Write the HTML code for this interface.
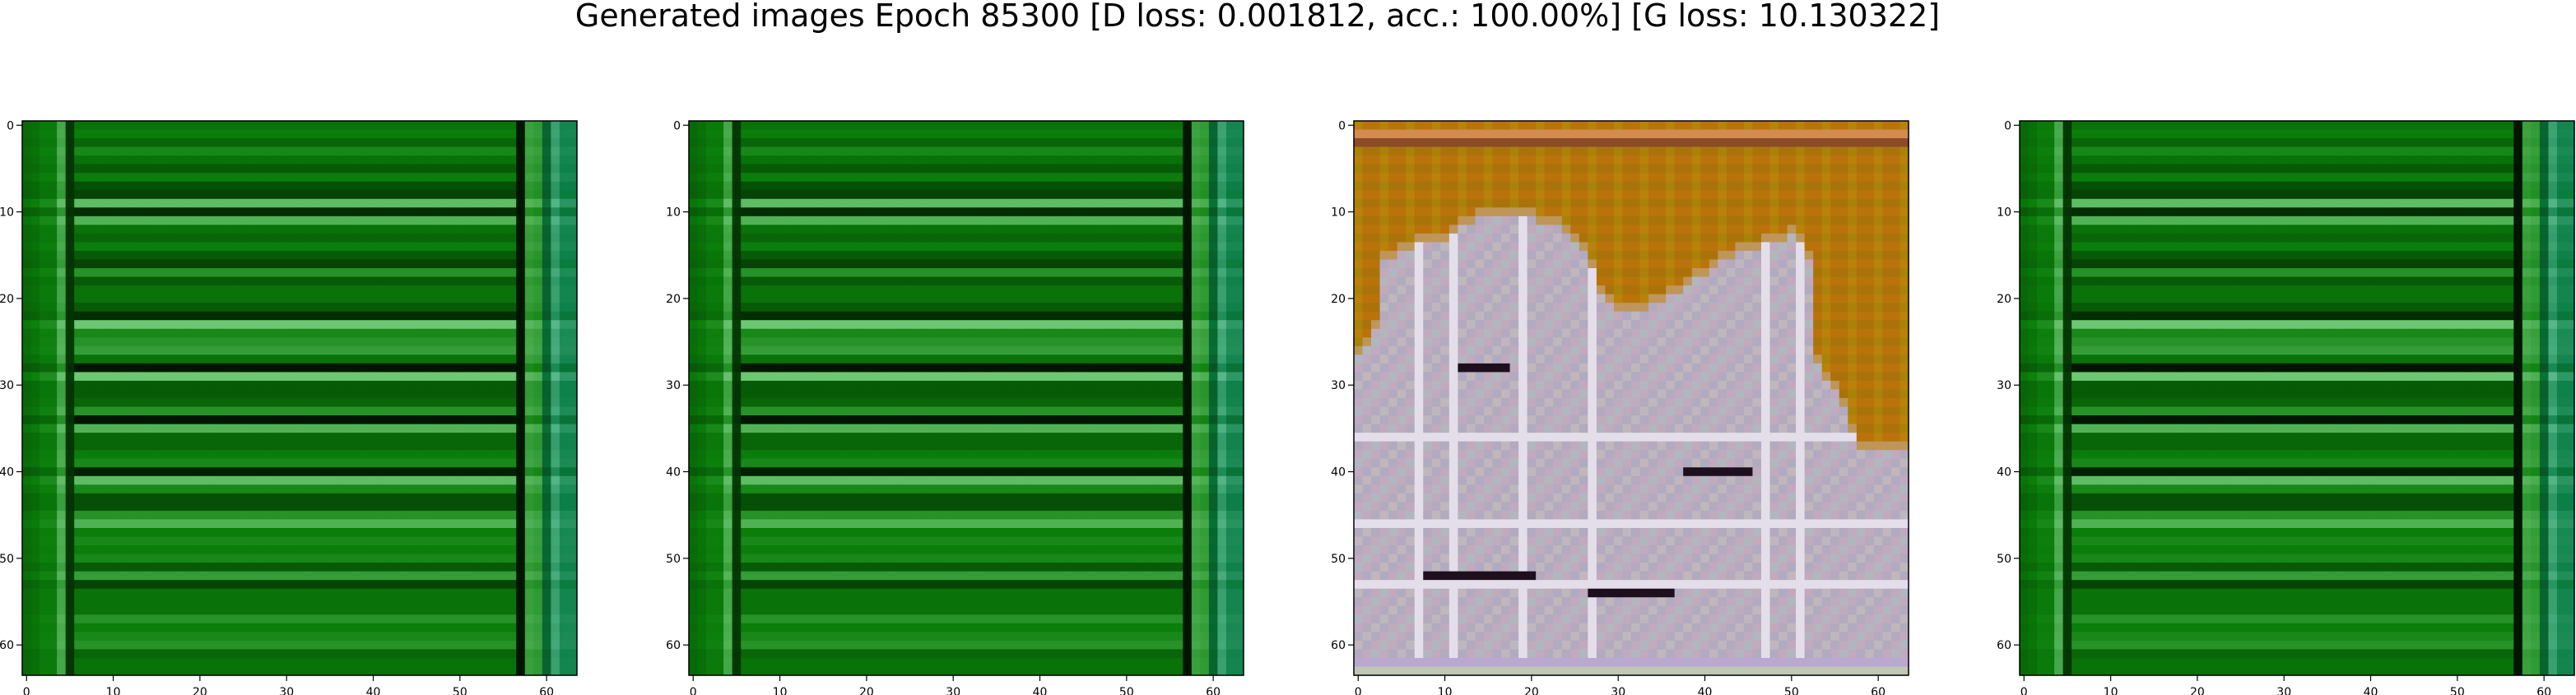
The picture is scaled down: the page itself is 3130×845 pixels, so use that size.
<!DOCTYPE html>
<html><head><meta charset="utf-8">
<style>
html,body{margin:0;padding:0;background:#fff;}
svg{display:block;}
text{font-family:"DejaVu Sans","Liberation Sans",sans-serif;fill:#000;}
</style></head>
<body>
<svg id="fig" width="3130" height="845" viewBox="0 0 3130 845">
<text x="1528" y="32" font-size="38" text-anchor="middle">Generated images Epoch 85300 [D loss: 0.001812, acc.: 100.00%] [G loss: 10.130322]</text>
</svg>
<script>
// ---- data ----
const panelLefts = [27, 837, 1645, 2454];
const tickValues = [0, 10, 20, 30, 40, 50, 60];
const greenRows = [.45,.5,.4,.55,.45,.35,.5,.3,.25,.8,.15,.75,.45,.4,.5,.35,.25,.6,.35,.45,.45,.35,.15,.85,.55,.6,.65,.45,.05,.85,.35,.35,.4,.6,.05,.75,.4,.4,.5,.55,.1,.8,.55,.3,.3,.6,.75,.5,.55,.5,.55,.35,.65,.25,.45,.45,.45,.6,.5,.55,.6,.4,.45,.45];
const greenCols = [.42,.45,.5,.5,.72,.2,1,1,1,1,1,1,1,1,1,1,1,1,1,1,1,1,1,1,1,1,1,1,1,1,1,1,1,1,1,1,1,1,1,1,1,1,1,1,1,1,1,1,1,1,1,1,1,1,1,1,.55,.05,.68,.65,.4,.68,.55,.55];
const orangeDepth = [27,26,24,16,16,15,15,14,14,14,14,13,12,12,11,11,11,11,11,11,11,12,12,12,13,14,15,17,20,21,22,22,22,22,21,21,20,20,19,18,18,17,16,16,15,15,15,14,14,14,13,14,16,28,30,31,33,36,38,38,38,38,38,38];
const whiteCols = [7, 11, 19, 27, 47, 51];
const whiteRows = [36, 46, 53];
const darkSegRow = [28, 40, 52, 54];
const darkSegStart = [12, 38, 8, 27];
const darkSegEnd = [17, 45, 20, 36];

const NS = "http://www.w3.org/2000/svg";
const svg = document.getElementById("fig");
const top0 = 147, size = 674, N = 64, px = size / N;
function xScale(left, i){ return left + (i + 0.5) * px; }
function yScale(i){ return top0 + (i + 0.5) * px; }

function greenColor(r, c){
  let b = (c >= 6 && c <= 56) ? greenRows[r] : greenCols[c] * (0.8 + 0.4 * greenRows[r]);
  let teal = (c >= 60) ? 1 : 0;
  if (b < 0.5) { const t = b / 0.5; return [Math.round(10 * t), Math.round(10 + 115 * t), Math.round(teal * 50 * t + 10 * t)]; }
  const t = (b - 0.5) / 0.5;
  return [Math.round(10 + 140 * t), Math.round(125 + 105 * t), Math.round(10 + teal * 60 + 150 * t * (1 - teal * 0.2))];
}
function thirdColor(r, c){
  if (r === 63) return [190, 200, 180];
  if (r === 62) return [185, 168, 208];
  if (r < orangeDepth[c]) {
    if (r === 1) return [210, 140, 80];
    if (r === 2) return [140, 75, 40];
    if (r === orangeDepth[c] - 1) return [190, 150, 90];
    return [(r % 2) ? 170 : 185, (c % 3) ? 115 : 130, 10];
  }
  for (let k = 0; k < darkSegRow.length; k++) {
    if (r === darkSegRow[k] && c >= darkSegStart[k] && c <= darkSegEnd[k]) return [30, 15, 30];
  }
  if (whiteRows.includes(r) || whiteCols.includes(c)) return [228, 222, 235];
  return [(r + c) % 2 ? 178 : 192, (r + c) % 3 ? 170 : 182, 190];
}
function el(tag, attrs){ const e = document.createElementNS(NS, tag); for (const k in attrs) e.setAttribute(k, attrs[k]); return e; }

panelLefts.forEach((left, p) => {
  const g = el("g", {});
  
  
  svg.appendChild(g);
  for (let r = 0; r < N; r++) for (let c = 0; c < N; c++) {
    const col = p === 2 ? thirdColor(r, c) : greenColor(r, c);
    const rect = el("rect", {x: (left + c * px).toFixed(2), y: (top0 + r * px).toFixed(2), width: (px + 0.6).toFixed(2), height: (px + 0.6).toFixed(2), fill: "rgb(" + col.join(",") + ")"});
    
    
    g.appendChild(rect);
  }
  const frame = el("rect", {x: left, y: top0, width: size, height: size, fill: "none", stroke: "#000", "stroke-width": 1.5});
  
  
  g.appendChild(frame);
  tickValues.forEach(v => {
    const x = xScale(left, v);
    const t1 = el("line", {x1: x, x2: x, y1: top0 + size, y2: top0 + size + 7, stroke: "#000", "stroke-width": 1.2});
    
    
    g.appendChild(t1);
    const l1 = el("text", {x: x, y: top0 + size + 25, "font-size": 14, "text-anchor": "middle"});
    l1.textContent = v;
    
    
    g.appendChild(l1);
    const y = yScale(v);
    const t2 = el("line", {x1: left - 7, x2: left, y1: y, y2: y, stroke: "#000", "stroke-width": 1.2});
    
    
    g.appendChild(t2);
    const l2 = el("text", {x: left - 10, y: y + 5, "font-size": 14, "text-anchor": "end"});
    l2.textContent = v;
    
    
    g.appendChild(l2);
  });
});
</script>
</body></html>
